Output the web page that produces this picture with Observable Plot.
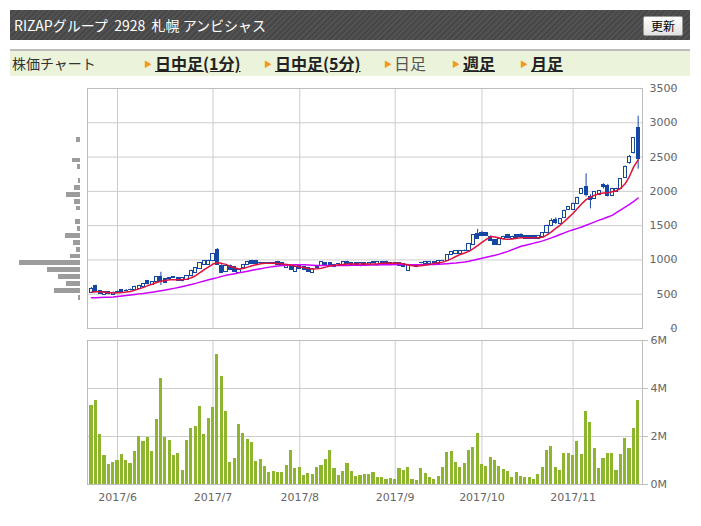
<!DOCTYPE html>
<html><head><meta charset="utf-8">
<script src="https://cdn.jsdelivr.net/npm/d3@7"></script>
<script src="https://cdn.jsdelivr.net/npm/@observablehq/plot@0.6"></script>
<style>
body{margin:0;background:#fff;width:701px;height:526px;position:relative;overflow:hidden;font-family:"Noto Sans CJK JP",sans-serif;}
#hdr{position:absolute;left:10px;top:10px;width:680px;height:30px;background:repeating-linear-gradient(135deg,#525252 0 2px,#474747 2px 4px);}
#hdr .t{position:absolute;left:4px;top:0;line-height:30px;color:#fff;font-size:14px;white-space:pre;}
#btn{position:absolute;left:633px;top:6px;width:38px;height:18px;border:1px solid #999;border-radius:2px;background:linear-gradient(#ffffff,#e2e2e2);font-size:12px;line-height:18px;text-align:center;color:#000;}
#nav{position:absolute;left:10px;top:49px;width:680px;height:25px;background:#ebf3da;border-top:2px solid #bdbdbd;}
#nav span{position:absolute;top:0;line-height:25px;white-space:nowrap;}
#nav .lbl{font-size:14px;color:#333;}
#nav .tri{font-size:8px;color:#f29a1a;line-height:25px;}
#nav .lk{font-size:16px;font-weight:bold;color:#222;text-decoration:underline;}
#nav .cur{font-size:16px;color:#555;}
.pl{position:absolute;left:0;}
svg rect{shape-rendering:crispEdges;}
</style></head>
<body>
<div id="hdr"><div class="t">RIZAPグループ  2928  札幌 アンビシャス</div><div id="btn">更新</div></div>
<div id="nav">
<span class="lbl" style="left:2px">株価チャート</span>
<span class="tri" style="left:134px">▶</span><span class="lk" style="left:145px">日中足(1分)</span>
<span class="tri" style="left:254px">▶</span><span class="lk" style="left:265px">日中足(5分)</span>
<span class="tri" style="left:374px">▶</span><span class="cur" style="left:384px">日足</span>
<span class="tri" style="left:442px">▶</span><span class="lk" style="left:453px">週足</span>
<span class="tri" style="left:510px">▶</span><span class="lk" style="left:521px">月足</span>
</div>
<div id="hist" class="pl" style="top:80px"></div>
<div id="price" class="pl" style="top:80px"></div>
<div id="vol" class="pl" style="top:335px"></div>
<script>
const dates = ["2017-05-24","2017-05-25","2017-05-26","2017-05-29","2017-05-30","2017-05-31",
"2017-06-01","2017-06-02","2017-06-05","2017-06-06","2017-06-07","2017-06-08","2017-06-09","2017-06-12","2017-06-13","2017-06-14","2017-06-15","2017-06-16","2017-06-19","2017-06-20","2017-06-21","2017-06-22","2017-06-23","2017-06-26","2017-06-27","2017-06-28","2017-06-29","2017-06-30",
"2017-07-03","2017-07-04","2017-07-05","2017-07-06","2017-07-07","2017-07-10","2017-07-11","2017-07-12","2017-07-13","2017-07-14","2017-07-18","2017-07-19","2017-07-20","2017-07-21","2017-07-24","2017-07-25","2017-07-26","2017-07-27","2017-07-28","2017-07-31",
"2017-08-01","2017-08-02","2017-08-03","2017-08-04","2017-08-07","2017-08-08","2017-08-09","2017-08-10","2017-08-14","2017-08-15","2017-08-16","2017-08-17","2017-08-18","2017-08-21","2017-08-22","2017-08-23","2017-08-24","2017-08-25","2017-08-28","2017-08-29","2017-08-30","2017-08-31",
"2017-09-01","2017-09-04","2017-09-05","2017-09-06","2017-09-07","2017-09-08","2017-09-11","2017-09-12","2017-09-13","2017-09-14","2017-09-15","2017-09-19","2017-09-20","2017-09-21","2017-09-22","2017-09-25","2017-09-26","2017-09-27","2017-09-28","2017-09-29",
"2017-10-02","2017-10-03","2017-10-04","2017-10-05","2017-10-06","2017-10-10","2017-10-11","2017-10-12","2017-10-13","2017-10-16","2017-10-17","2017-10-18","2017-10-19","2017-10-20","2017-10-23","2017-10-24","2017-10-25","2017-10-26","2017-10-27","2017-10-30","2017-10-31",
"2017-11-01","2017-11-02","2017-11-06","2017-11-07","2017-11-08","2017-11-09","2017-11-10","2017-11-13","2017-11-14","2017-11-15","2017-11-16","2017-11-17","2017-11-20","2017-11-21","2017-11-22","2017-11-24"];
const open  = [516,613,540,495,528,495, 520,562,550,560,565,580,600,688,640,675,755,722,728,745,733,686,713,762,810,868,930,925, 988,1147,916,820,915,892,812,882,928,988,985,950,952,955,952,972,950,882,906,829, 906,892,877,810,901,916,955,955,930,938,916,974,955,950,906,950,926,962,926,974,974,953, 954,955,940,844,918,926,948,940,940,962,940,986,988,1070,1085,1085,1131,1133,1222,1374, 1398,1388,1340,1290,1215,1300,1358,1310,1358,1370,1343,1348,1348,1300,1338,1387,1502,1589,1517,1609,1725, 1734,1816,1961,2063,1918,1889,1942,2092,2082,1928,1995,2039,2193,2411,2555,2918];
const high  = [598,630,548,535,532,532, 545,570,568,575,618,632,656,695,685,752,820,730,745,752,740,740,768,850,885,960,992,995, 1092,1166,930,925,925,900,862,935,978,995,992,965,962,965,962,980,958,935,912,898, 912,898,882,872,908,970,962,960,936,948,970,980,960,956,960,956,960,970,968,980,982,962, 962,960,945,936,925,932,955,978,978,970,982,995,1075,1122,1140,1140,1145,1235,1370,1446, 1420,1400,1350,1298,1305,1345,1365,1345,1365,1382,1350,1355,1352,1352,1400,1508,1599,1614,1605,1726,1775, 1828,1915,2045,2256,1952,1998,2015,2111,2101,2045,2045,2185,2370,2522,2783,3096];
const low   = [510,525,500,490,492,490, 512,525,540,550,560,575,595,635,635,670,627,660,715,730,688,680,708,755,805,862,925,918, 980,920,800,815,850,822,805,878,922,935,935,940,942,945,942,920,910,878,852,825, 862,848,822,805,872,912,910,920,886,932,912,930,920,910,900,910,920,955,920,930,926,948, 948,910,886,838,908,886,942,936,936,956,936,980,984,1065,1080,1080,1120,1128,1215,1302, 1340,1340,1270,1215,1208,1295,1315,1305,1318,1325,1305,1305,1305,1296,1334,1382,1498,1517,1512,1604,1720, 1728,1810,1955,1918,1744,1882,1936,2034,1918,1922,1990,2034,2188,2396,2545,2324];
const close = [579,530,505,528,500,525, 538,532,554,565,612,627,650,642,680,745,678,668,730,735,692,733,762,844,877,955,988,988, 1085,926,812,915,858,829,858,930,972,942,945,955,955,952,955,926,915,930,858,892, 868,853,829,868,877,964,916,926,892,940,964,935,926,916,955,916,955,964,964,935,930,955, 955,916,892,930,916,892,950,974,974,964,978,988,1070,1118,1133,1133,1133,1229,1360,1312, 1350,1348,1280,1222,1300,1338,1320,1340,1324,1330,1309,1309,1309,1348,1396,1502,1565,1532,1599,1720,1768, 1821,1908,2039,1952,1880,1990,2010,2058,1928,2039,2039,2178,2362,2507,2773,2469];
// volume in millions of shares
const volume = [3.31,3.52,2.07,1.20,0.83,0.91, 0.99,1.24,0.99,0.87,1.37,1.99,1.78,1.94,1.37,2.69,4.43,1.94,1.82,1.20,1.28,0.58,1.82,2.32,2.40,3.23,2.07,2.77, 3.19,5.42,4.51,3.06,0.91,1.08,2.48,2.11,1.86,1.74,0.95,1.03,0.74,0.50,0.54,0.50,0.50,0.79,1.41,0.66, 0.70,0.37,0.46,0.41,0.70,0.79,1.03,1.41,0.66,0.37,0.54,0.87,0.54,0.33,0.37,0.41,0.41,0.50,0.29,0.29,0.21,0.25, 0.21,0.66,0.58,0.70,0.21,0.17,0.66,0.46,0.29,0.21,0.33,0.70,1.32,1.37,0.91,0.70,0.87,1.41,1.53,2.11, 0.83,0.74,1.12,0.99,0.74,0.62,0.54,0.29,0.50,0.33,0.29,0.29,0.21,0.41,0.70,1.41,1.57,0.70,0.58,1.28,1.28, 1.20,1.78,1.24,3.06,2.57,1.49,0.66,1.08,1.28,1.28,0.58,1.24,1.90,1.49,2.32,3.52];
// short moving average (red) and long moving average (magenta)
const maShort = [530,535,535,530,525,518, 520,525,532,540,560,578,600,625,645,670,688,700,710,712,712,715,720,740,770,815,860,900, 940,960,950,935,905,885,868,875,895,915,930,945,950,952,952,948,940,935,925,910, 898,885,873,868,870,880,895,910,920,930,935,940,942,942,942,940,940,942,945,950,952,952, 952,950,942,925,915,910,915,925,935,950,960,968,990,1020,1050,1080,1100,1125,1165,1210, 1255,1300,1340,1335,1320,1305,1300,1305,1315,1322,1325,1325,1325,1322,1330,1365,1410,1460,1505,1560,1620, 1680,1750,1820,1880,1915,1945,1965,1975,1978,1995,2010,2045,2110,2220,2360,2458];
const maLong = [448,450,452,454,456,460, 468,474,480,488,496,505,512,520,530,540,550,560,572,585,598,612,626,642,658,676,694,710, 726,742,760,775,788,800,812,823,836,848,860,872,884,895,905,912,918,922,925,928, 930,928,925,922,920,920,920,920,920,920,920,920,921,922,923,924,925,926,927,928,930,931, 932,932,932,931,930,930,930,931,932,934,936,940,945,950,955,962,970,980,995,1010, 1025,1040,1055,1068,1085,1105,1125,1150,1175,1200,1215,1230,1245,1260,1278,1300,1322,1345,1370,1395,1420, 1440,1460,1480,1505,1530,1555,1580,1600,1625,1650,1690,1730,1770,1810,1855,1903];
// volume-by-price profile (price bins of 100, relative volume)
const profileBin = [400,500,600,700,800,900,1000,1100,1200,1300,1400,1500,1700,1800,1900,2000,2100,2300,2400,2700];
const profileVol = [2,26,14,22,33,61,10,4,7,15,3,5,4,6,14,6,2,3,8,4];
const priceTicks = [0,500,1000,1500,2000,2500,3000,3500];
const volTicks = [0,2,4,6];
const monthStarts = ["2017-06-01","2017-07-03","2017-08-01","2017-09-01","2017-10-02","2017-11-01"];
const monthLabels = ["2017/6","2017/7","2017/8","2017/9","2017/10","2017/11"];

const rows = dates.map((d,i)=>({i, date:d, open:open[i], high:high[i], low:low[i], close:close[i], vol:volume[i], ma5:maShort[i], ma25:maLong[i]}));
const up = rows.filter(d=>d.close>=d.open), down = rows.filter(d=>d.close<d.open);
const monthIdx = monthStarts.map(m=>dates.indexOf(m));
const labelOf = new Map(monthIdx.map((k,j)=>[k,monthLabels[j]]));
const profile = profileBin.map((b,j)=>({lo:b, v:profileVol[j]}));

const BLUE="#1546a3", UPFILL="#fcfcd6", GRID="#cccccc", FRAME="#bdbdbd";
const font = {fontFamily:"DejaVu Sans, Verdana, sans-serif", fontSize:"11px", color:"#666", background:"transparent", overflow:"visible"};
const xdom = [-0.92, 127];

document.getElementById("price").append(Plot.plot({
  width:701, height:260, marginTop:8, marginBottom:12, marginLeft:87, marginRight:59, style:font,
  x:{domain:xdom, axis:null},
  y:{domain:[0,3500], axis:null},
  marks:[
    Plot.gridY(priceTicks.slice(1,-1), {stroke:GRID, strokeOpacity:1}),
    Plot.gridX(monthIdx, {stroke:GRID, strokeOpacity:1}),
    Plot.frame({stroke:FRAME}),
    Plot.axisY(priceTicks, {anchor:"right", label:null, tickSize:5, tickPadding:3, textAnchor:"end", dx:27, tickFormat:d=>String(d), stroke:FRAME, fill:"#666"}),
    Plot.ruleX(rows, {x:"i", y1:"low", y2:"high", stroke:BLUE, strokeWidth:1}),
    Plot.rect(up, {x1:d=>d.i-0.36, x2:d=>d.i+0.36, y1:"open", y2:"close", fill:UPFILL, stroke:BLUE, strokeWidth:1}),
    Plot.rect(down, {x1:d=>d.i-0.36, x2:d=>d.i+0.36, y1:"open", y2:"close", fill:BLUE, stroke:BLUE, strokeWidth:1}),
    Plot.line(rows, {x:"i", y:"ma25", stroke:"#cc00ff", strokeWidth:1.5}),
    Plot.line(rows, {x:"i", y:"ma5", stroke:"#e0103c", strokeWidth:1.5})
  ]
}));

document.getElementById("hist").append(Plot.plot({
  width:87, height:260, marginTop:8, marginBottom:12, marginLeft:0, marginRight:7, style:font,
  x:{domain:[0,80], reverse:true, axis:null},
  y:{domain:[0,3500], axis:null},
  marks:[
    Plot.rectX(profile, {x:"v", y1:"lo", y2:d=>d.lo+100, insetTop:1, insetBottom:1, fill:"#9c9c9c"})
  ]
}));

document.getElementById("vol").append(Plot.plot({
  width:701, height:175, marginTop:5, marginBottom:26, marginLeft:87, marginRight:59, style:font,
  x:{domain:xdom, axis:null},
  y:{domain:[0,6], axis:null},
  marks:[
    Plot.gridY([2,4], {stroke:GRID, strokeOpacity:1}),
    Plot.gridX(monthIdx, {stroke:GRID, strokeOpacity:1}),
    Plot.frame({stroke:FRAME}),
    Plot.rectY(rows, {x1:d=>d.i-0.36, x2:d=>d.i+0.36, y:"vol", fill:"#8db52e"}),
    Plot.axisY(volTicks, {anchor:"right", label:null, tickSize:5, tickPadding:3, tickFormat:d=>d+"M", stroke:FRAME, fill:"#666"}),
    Plot.axisX(monthIdx, {anchor:"bottom", label:null, tickSize:0, tickPadding:9, tickFormat:k=>labelOf.get(k), fill:"#666"})
  ]
}));
</script>
</body></html>
